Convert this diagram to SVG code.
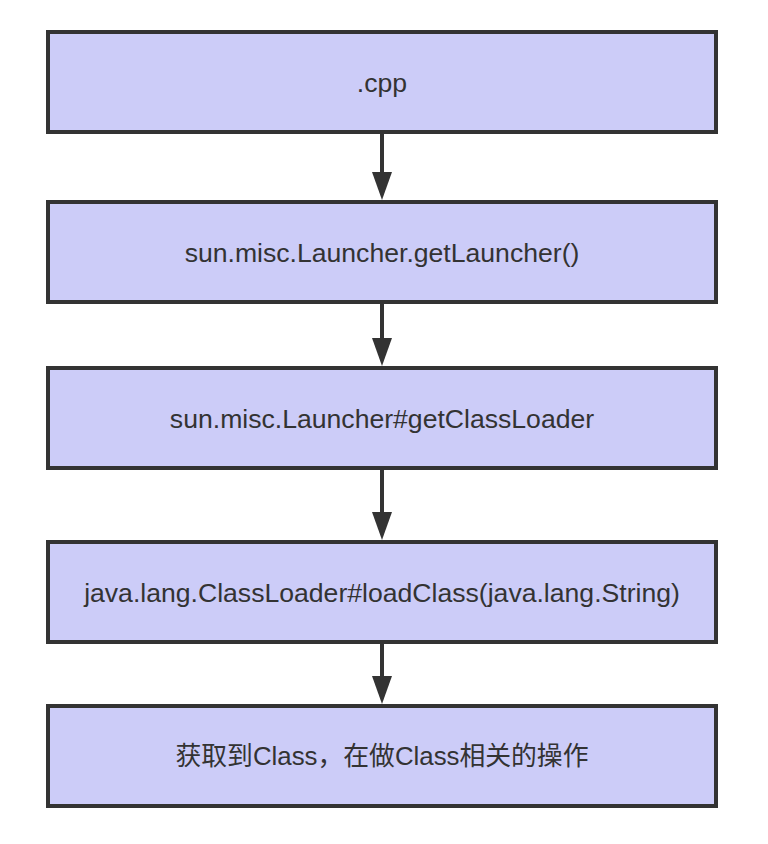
<svg xmlns="http://www.w3.org/2000/svg" width="768" height="844" viewBox="0 0 768 844">
  <style>
    .box { fill: #ccccf8; stroke: #333333; stroke-width: 4; }
    .lbl { font-family: "Liberation Sans", "Noto Sans CJK SC", sans-serif; font-size: 26.6px; fill: #333333; text-anchor: middle; }
    .edge { stroke: #333333; stroke-width: 4; fill: none; }
  </style>
  <defs>
    <marker id="arrow" markerUnits="userSpaceOnUse" markerWidth="28" markerHeight="20" viewBox="0 0 28 20" refX="2" refY="10" orient="auto">
      <path d="M0,0 L28,10 L0,20 Z" fill="#333333"/>
    </marker>
  </defs>
  <rect width="768" height="844" fill="#ffffff"/>
  <g id="edges">
    <line class="edge" x1="382" y1="133" x2="382" y2="174" marker-end="url(#arrow)"/>
    <line class="edge" x1="382" y1="303" x2="382" y2="340" marker-end="url(#arrow)"/>
    <line class="edge" x1="382" y1="469" x2="382" y2="514" marker-end="url(#arrow)"/>
    <line class="edge" x1="382" y1="643" x2="382" y2="678" marker-end="url(#arrow)"/>
  </g>
  <g id="node1">
    <rect class="box" x="48" y="32" width="668" height="100"/>
    <text class="lbl" x="382" y="92">.cpp</text>
  </g>
  <g id="node2">
    <rect class="box" x="48" y="202" width="668" height="100"/>
    <text class="lbl" x="382" y="262">sun.misc.Launcher.getLauncher()</text>
  </g>
  <g id="node3">
    <rect class="box" x="48" y="368" width="668" height="100"/>
    <text class="lbl" x="382" y="428">sun.misc.Launcher#getClassLoader</text>
  </g>
  <g id="node4">
    <rect class="box" x="48" y="542" width="668" height="100"/>
    <text class="lbl" x="382" y="602">java.lang.ClassLoader#loadClass(java.lang.String)</text>
  </g>
  <g id="node5">
    <rect class="box" x="48" y="706" width="668" height="100"/>
    <text class="lbl" x="382" y="765" textLength="413" lengthAdjust="spacingAndGlyphs">获取到Class，在做Class相关的操作</text>
  </g>
</svg>
